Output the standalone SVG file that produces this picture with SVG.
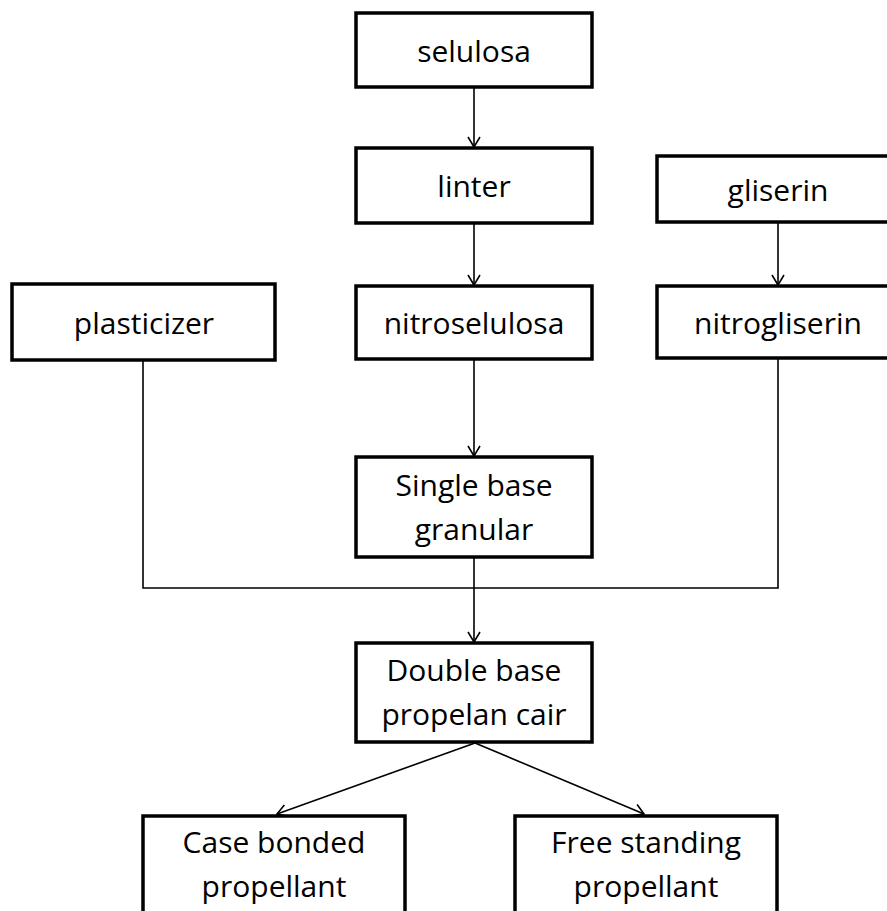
<svg xmlns="http://www.w3.org/2000/svg" width="887" height="911" viewBox="0 0 887 911">
<defs>
<style>
.box{fill:#fff;stroke:#000;stroke-width:3.5;}
.t{font-family:"Open Sans","Liberation Sans",sans-serif;font-size:30px;fill:#000;text-anchor:middle;}
.c{fill:none;stroke:#000;stroke-width:1.6;}
</style>
<marker id="ah" viewBox="0 0 12 14" refX="11" refY="7" markerWidth="12" markerHeight="14" markerUnits="userSpaceOnUse" orient="auto">
<path d="M1,1 L11,7 L1,13" fill="none" stroke="#000" stroke-width="1.6"/>
</marker>
</defs>
<rect width="887" height="911" fill="#fff"/>
<g id="connectors">
<line class="c" x1="474" y1="87" x2="474" y2="147" marker-end="url(#ah)"/>
<line class="c" x1="474" y1="223" x2="474" y2="285" marker-end="url(#ah)"/>
<line class="c" x1="778" y1="222" x2="778" y2="285" marker-end="url(#ah)"/>
<line class="c" x1="474" y1="359" x2="474" y2="456" marker-end="url(#ah)"/>
<polyline class="c" points="143,360 143,588 778,588 778,358"/>
<line class="c" x1="474" y1="557" x2="474" y2="642" marker-end="url(#ah)"/>
<line class="c" x1="475" y1="743" x2="277" y2="814" marker-end="url(#ah)"/>
<line class="c" x1="475" y1="743" x2="644" y2="814" marker-end="url(#ah)"/>
</g>
<g id="selulosa"><rect class="box" x="356" y="13" width="236" height="74"/><text class="t" x="474" y="62">selulosa</text></g>
<g id="linter"><rect class="box" x="356" y="148" width="236" height="75"/><text class="t" x="474" y="197">linter</text></g>
<g id="gliserin"><rect class="box" x="657" y="156" width="250" height="66"/><text class="t" x="778" y="201">gliserin</text></g>
<g id="plasticizer"><rect class="box" x="12" y="284" width="263" height="76"/><text class="t" x="144" y="334">plasticizer</text></g>
<g id="nitroselulosa"><rect class="box" x="356" y="286" width="236" height="73"/><text class="t" x="474" y="334">nitroselulosa</text></g>
<g id="nitrogliserin"><rect class="box" x="657" y="286" width="250" height="72"/><text class="t" x="778" y="334">nitrogliserin</text></g>
<g id="single"><rect class="box" x="356" y="457" width="236" height="100"/><text class="t" x="474" y="496">Single base</text><text class="t" x="474" y="540">granular</text></g>
<g id="double"><rect class="box" x="356" y="643" width="236" height="99"/><text class="t" x="474" y="681">Double base</text><text class="t" x="474" y="725">propelan cair</text></g>
<g id="case"><rect class="box" x="143" y="816" width="262" height="120"/><text class="t" x="274" y="853">Case bonded</text><text class="t" x="274" y="897">propellant</text></g>
<g id="free"><rect class="box" x="515" y="816" width="262" height="120"/><text class="t" x="646" y="853">Free standing</text><text class="t" x="646" y="897">propellant</text></g>
</svg>
